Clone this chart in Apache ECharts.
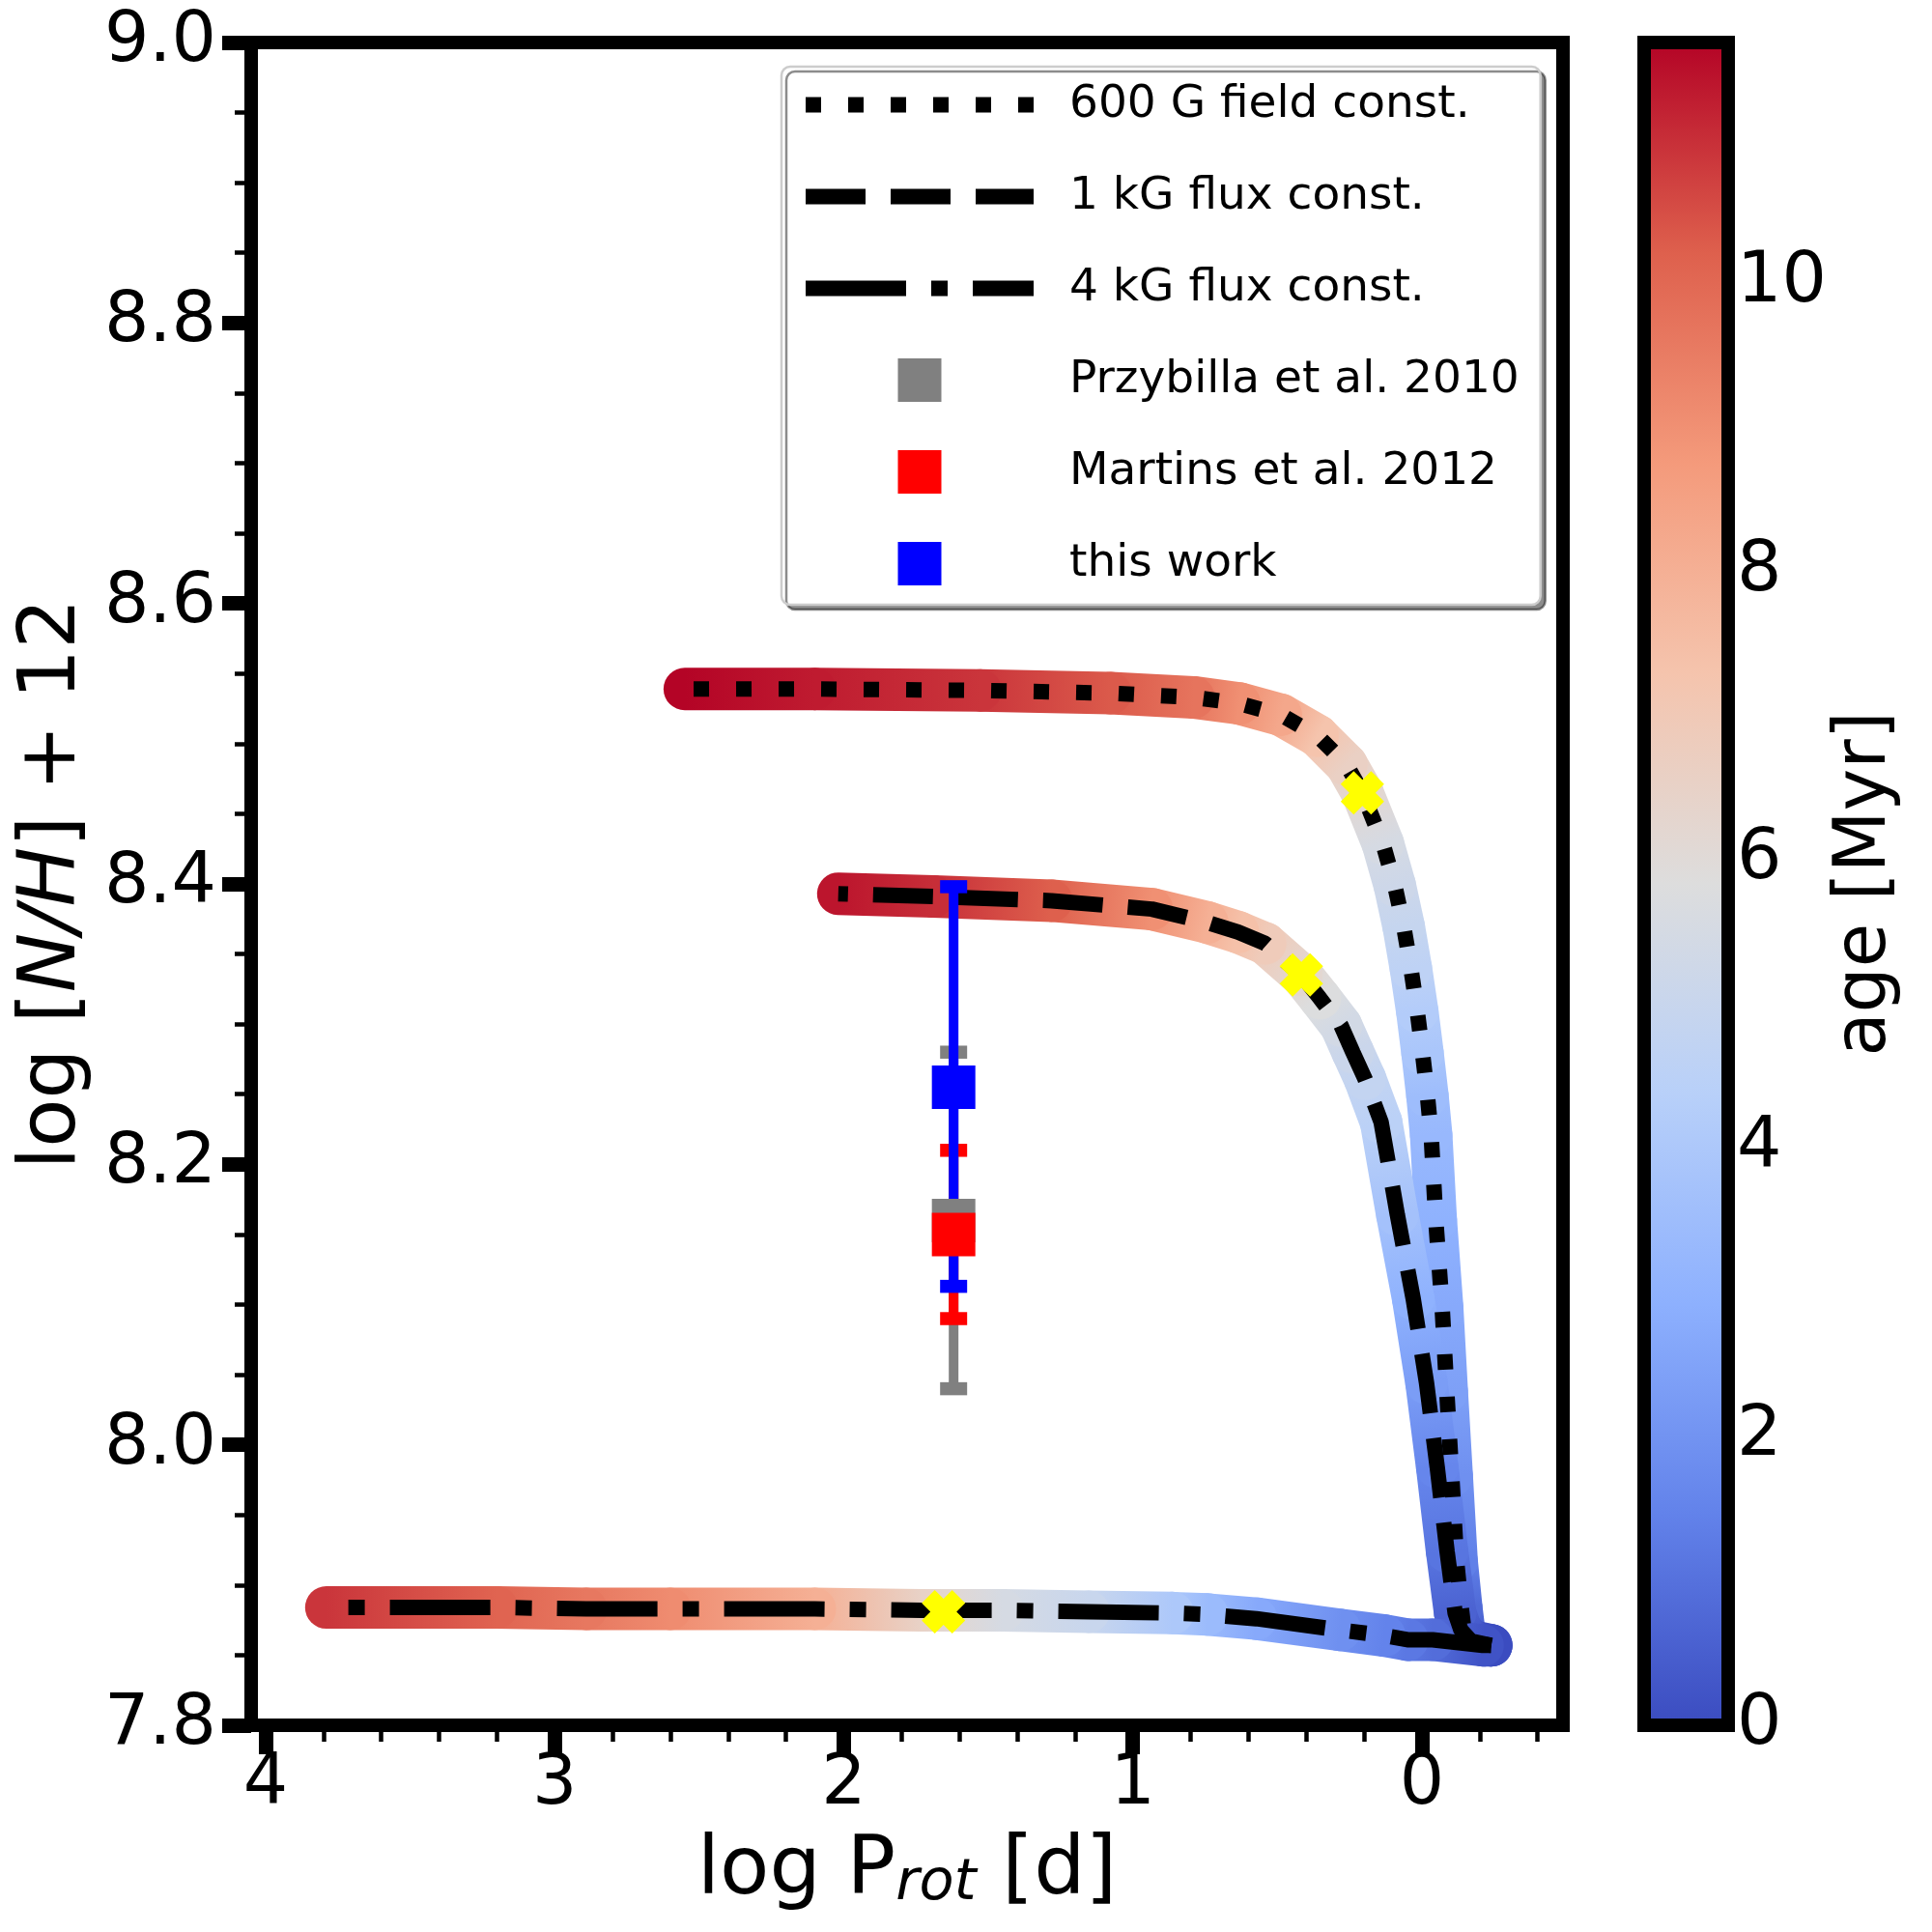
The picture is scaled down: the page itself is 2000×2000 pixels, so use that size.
<!DOCTYPE html>
<html>
<head>
<meta charset="utf-8">
<script src="https://cdn.jsdelivr.net/npm/echarts@6/dist/echarts.min.js"></script>
<style>
html, body { margin: 0; padding: 0; background: #fff; }
#chart { width: 2000px; height: 2000px; }
</style>
</head>
<body>
<div id="chart"></div>
<script>
// evolution tracks: log P_rot [d], log [N/H]+12, age [Myr]
var logP600 = [-0.24, -0.165, -0.149, -0.136, -0.12, -0.103, -0.086, -0.07, -0.048, -0.032, -0.019, -0.002, 0.016, 0.038, 0.063, 0.094, 0.135, 0.206, 0.261, 0.361, 0.488, 0.631, 0.79, 1.077, 1.527, 2.10, 2.55];
var nh600   = [7.857, 7.859, 7.862, 7.884, 7.917, 7.978, 8.038, 8.098, 8.16, 8.221, 8.249, 8.2795, 8.309, 8.3396, 8.3695, 8.399, 8.4287, 8.465, 8.485, 8.5056, 8.5206, 8.5286, 8.533, 8.536, 8.538, 8.539, 8.539];
var age600  = [0, 0.3, 0.5, 0.8, 1.4, 1.9, 2.4, 2.7, 3.0, 3.3, 3.5, 3.9, 4.2, 4.6, 4.9, 5.2, 5.5, 6.2, 6.6, 7.3, 8.3, 9.0, 9.7, 10.3, 10.9, 11.3, 11.67];

var logP1k = [-0.24, -0.17, -0.135, -0.115, -0.087, -0.053, -0.016, 0.03, 0.085, 0.141, 0.197, 0.239, 0.28, 0.353, 0.417, 0.542, 0.636, 0.742, 0.934, 1.281, 1.69, 2.019];
var nh1k   = [7.857, 7.860, 7.868, 7.88, 7.924, 7.984, 8.044, 8.104, 8.164, 8.23, 8.261, 8.28, 8.299, 8.3185, 8.335, 8.3575, 8.3656, 8.3725, 8.382, 8.388, 8.391, 8.393];
var age1k  = [0, 0.2, 0.4, 0.6, 1.1, 1.6, 2.3, 3.0, 3.7, 4.5, 4.8, 5.1, 5.4, 5.8, 6.2, 6.9, 7.4, 8.0, 9.0, 10.2, 11.0, 11.4];

var logP4k = [-0.239, -0.21, -0.037, 0.05, 0.13, 0.283, 0.573, 0.742, 0.862, 1.153, 1.45, 1.655, 1.731, 2.1, 2.6, 2.891, 3.2, 3.79];
var nh4k   = [7.857, 7.857, 7.861, 7.861, 7.864, 7.868, 7.876, 7.879, 7.880, 7.881, 7.882, 7.882, 7.882, 7.883, 7.883, 7.883, 7.884, 7.884];
var age4k  = [0, 0.2, 0.9, 1.2, 1.5, 1.9, 2.7, 3.4, 4.0, 5.0, 5.5, 6.2, 6.5, 8.0, 9.1, 9.6, 10.1, 10.9];

// yellow crosses
var markLogP = [0.206, 0.417, 1.655];
var markNH   = [8.465, 8.335, 7.881];

// observations
var obsNames = ['Przybilla et al. 2010', 'Martins et al. 2012', 'this work'];
var obsLogP  = [1.62, 1.62, 1.62];
var obsNH    = [8.16, 8.15, 8.255];
var obsLow   = [8.04, 8.09, 8.113];
var obsHigh  = [8.28, 8.21, 8.398];
var obsColors = ['#808080', '#ff0000', '#0000ff'];

var trackNames = ['600 G field const.', '1 kG flux const.', '4 kG flux const.'];

// axes
var xRange = [-0.488, 4.05];
var xTicks = [0, 1, 2, 3, 4];
var yRange = [7.8, 9.0];
var ageRange = [0, 11.67];
var cbarTicks = [0, 2, 4, 6, 8, 10];

var coolwarm = ['#3b4cc0', '#6282ea', '#8db0fe', '#b8d0f9', '#dddddd', '#f5c4ad', '#f49a7b', '#de604d', '#b40426'];
var FONT = 'DejaVu Sans';
var squarePath = 'path://M0,0L10,0L10,10L0,10Z';
var crossPath = 'path://M0,30L30,0L50,20L70,0L100,30L80,50L100,70L70,100L50,80L30,100L0,70L20,50Z';

function hexRgb(h) {
    return [parseInt(h.substr(1, 2), 16), parseInt(h.substr(3, 2), 16), parseInt(h.substr(5, 2), 16)];
}
function ageColor(a) {
    var t = (a - ageRange[0]) / (ageRange[1] - ageRange[0]);
    t = Math.max(0, Math.min(1, t)) * (coolwarm.length - 1);
    var i = Math.min(Math.floor(t), coolwarm.length - 2);
    var f = t - i;
    var c1 = hexRgb(coolwarm[i]), c2 = hexRgb(coolwarm[i + 1]);
    var c = [0, 1, 2].map(function (k) { return Math.round(c1[k] + (c2[k] - c1[k]) * f); });
    return 'rgb(' + c.join(',') + ')';
}
function segments(xs, ys, ages) {
    var out = [];
    for (var i = 0; i < xs.length - 1; i++) {
        out.push([xs[i], ys[i], ages[i], xs[i + 1], ys[i + 1], ages[i + 1]]);
    }
    return out;
}
function zip(xs, ys) {
    return xs.map(function (x, i) { return [x, ys[i]]; });
}

function renderTrack(params, api) {
    var p1 = api.coord([api.value(0), api.value(1)]);
    var p2 = api.coord([api.value(3), api.value(4)]);
    return {
        type: 'line',
        shape: { x1: p1[0], y1: p1[1], x2: p2[0], y2: p2[1] },
        style: {
            stroke: new echarts.graphic.LinearGradient(p1[0], p1[1], p2[0], p2[1], [
                { offset: 0, color: ageColor(api.value(2)) },
                { offset: 1, color: ageColor(api.value(5)) }
            ], true),
            lineWidth: 44,
            lineCap: 'round'
        }
    };
}

function renderErrorBar(params, api) {
    var top = api.coord([api.value(0), api.value(2)]);
    var bot = api.coord([api.value(0), api.value(1)]);
    var col = obsColors[params.dataIndex];
    var cap = 14;
    return {
        type: 'group',
        children: [
            { type: 'line', shape: { x1: top[0], y1: top[1], x2: bot[0], y2: bot[1] }, style: { stroke: col, lineWidth: 10 } },
            { type: 'line', shape: { x1: top[0] - cap, y1: top[1], x2: top[0] + cap, y2: top[1] }, style: { stroke: col, lineWidth: 13.5 } },
            { type: 'line', shape: { x1: bot[0] - cap, y1: bot[1], x2: bot[0] + cap, y2: bot[1] }, style: { stroke: col, lineWidth: 13.5 } }
        ]
    };
}

function renderColorbar(params, api) {
    var lt = api.coord([0, ageRange[1]]);
    var rb = api.coord([1, ageRange[0]]);
    var stops = coolwarm.map(function (c, i) { return { offset: i / (coolwarm.length - 1), color: c }; });
    return {
        type: 'rect',
        shape: { x: lt[0], y: lt[1], width: rb[0] - lt[0], height: rb[1] - lt[1] },
        style: { fill: new echarts.graphic.LinearGradient(0, 1, 0, 0, stops) }
    };
}

var frameLine = { show: true, onZero: false, lineStyle: { color: '#000', width: 14, cap: 'square' } };
function frameAxis(grid, pos, range) {
    return {
        gridIndex: grid, type: 'value', position: pos, min: range[0], max: range[1],
        axisLine: frameLine, axisTick: { show: false }, axisLabel: { show: false }, splitLine: { show: false }
    };
}

var chart = echarts.init(document.getElementById('chart'));

var trackData = [
    [logP600, nh600, age600, [16, 28]],
    [logP1k, nh1k, age1k, [62, 26]],
    [logP4k, nh4k, age4k, [104, 26, 17, 26]]
];

var series = [];
trackData.forEach(function (t) {
    series.push({
        type: 'custom',
        renderItem: renderTrack,
        data: segments(t[0], t[1], t[2]),
        encode: { x: [0, 3], y: [1, 4] },
        z: 2,
        silent: true
    });
});
trackData.forEach(function (t, i) {
    series.push({
        name: trackNames[i],
        type: 'line',
        data: zip(t[0], t[1]),
        symbol: 'none',
        itemStyle: { color: 'rgba(0,0,0,0)' },
        lineStyle: { color: '#000', width: 16, type: t[3], cap: 'butt' },
        z: 3,
        silent: true
    });
});
series.push({
    type: 'scatter',
    data: zip(markLogP, markNH),
    symbol: crossPath,
    symbolSize: 45,
    itemStyle: { color: '#ffff00', opacity: 1 },
    z: 4,
    silent: true
});
series.push({
    type: 'custom',
    renderItem: renderErrorBar,
    data: obsLogP.map(function (x, i) { return [x, obsLow[i], obsHigh[i]]; }),
    encode: { x: 0, y: [1, 2] },
    z: 5,
    silent: true
});
obsNames.forEach(function (n, i) {
    series.push({
        name: n,
        type: 'scatter',
        data: [[obsLogP[i], obsNH[i]]],
        symbol: squarePath,
        symbolSize: 45,
        itemStyle: { color: obsColors[i], opacity: 1 },
        z: 6,
        silent: true
    });
});
series.push({
    type: 'custom',
    renderItem: renderColorbar,
    xAxisIndex: 2,
    yAxisIndex: 2,
    data: [[0, ageRange[1]]],
    z: -1,
    silent: true
});

var option = {
    backgroundColor: '#fff',
    animation: false,
    textStyle: { fontFamily: FONT },
    grid: [
        { left: 260, top: 44, width: 1358, height: 1742, outerBoundsMode: 'none' },
        { left: 1702, top: 44, width: 87, height: 1742, outerBoundsMode: 'none' }
    ],
    legend: {
        orient: 'vertical',
        left: 809,
        top: 69,
        itemWidth: 236,
        itemHeight: 45,
        itemGap: 48,
        padding: [16, 22, 19, 17],
        backgroundColor: '#fff',
        borderColor: '#cccccc',
        borderWidth: 2.5,
        borderRadius: 9,
        shadowColor: 'rgba(0,0,0,0.45)',
        shadowOffsetX: 5,
        shadowOffsetY: 5,
        shadowBlur: 0,
        selectedMode: false,
        lineStyle: { width: 16 },
        textStyle: { fontSize: 47, color: '#000', fontFamily: FONT, lineHeight: 45, padding: [0, 0, 0, 32] },
        data: trackNames.concat(obsNames)
    },
    xAxis: [
        {
            gridIndex: 0, type: 'value', position: 'bottom', inverse: true,
            min: xRange[0], max: xRange[1],
            axisLine: frameLine,
            axisTick: { show: true, length: 30, customValues: xTicks, lineStyle: { color: '#000', width: 15 } },
            minorTick: { show: true, splitNumber: 5, length: 17, lineStyle: { color: '#000', width: 4.5 } },
            axisLabel: { customValues: xTicks, fontSize: 73, color: '#000', margin: 26, fontFamily: FONT },
            splitLine: { show: false },
            name: 'log P{s|rot} [d]',
            nameLocation: 'middle',
            nameGap: 110,
            nameTextStyle: {
                fontSize: 84, color: '#000', fontFamily: FONT, lineHeight: 84,
                rich: { s: { fontSize: 59, fontStyle: 'italic', fontFamily: FONT, color: '#000', verticalAlign: 'bottom', lineHeight: 50 } }
            }
        },
        frameAxis(0, 'top', [0, 1]),
        frameAxis(1, 'bottom', [0, 1]),
        frameAxis(1, 'top', [0, 1])
    ],
    yAxis: [
        {
            gridIndex: 0, type: 'value', position: 'left',
            min: yRange[0], max: yRange[1], interval: 0.2,
            axisLine: frameLine,
            axisTick: { show: true, length: 30, lineStyle: { color: '#000', width: 15 } },
            minorTick: { show: true, splitNumber: 4, length: 17, lineStyle: { color: '#000', width: 4.5 } },
            axisLabel: { fontSize: 73, color: '#000', margin: 36, fontFamily: FONT, formatter: function (v) { return v.toFixed(1); } },
            splitLine: { show: false },
            name: 'log [{i|N/H}] + 12',
            nameLocation: 'middle',
            nameGap: 160,
            nameTextStyle: {
                fontSize: 82, color: '#000', fontFamily: FONT,
                rich: { i: { fontSize: 82, fontStyle: 'italic', fontFamily: FONT, color: '#000' } }
            }
        },
        frameAxis(0, 'right', [0, 1]),
        frameAxis(1, 'left', ageRange),
        {
            gridIndex: 1, type: 'value', position: 'right',
            min: ageRange[0], max: ageRange[1],
            axisLine: frameLine,
            axisTick: { show: false },
            axisLabel: { customValues: cbarTicks, fontSize: 73, color: '#000', margin: 9, fontFamily: FONT },
            splitLine: { show: false },
            name: 'age [Myr]',
            nameLocation: 'middle',
            nameRotate: 90,
            nameGap: 106,
            nameTextStyle: { fontSize: 74, color: '#000', fontFamily: FONT }
        }
    ],
    series: series
};

chart.setOption(option);
</script>
</body>
</html>
